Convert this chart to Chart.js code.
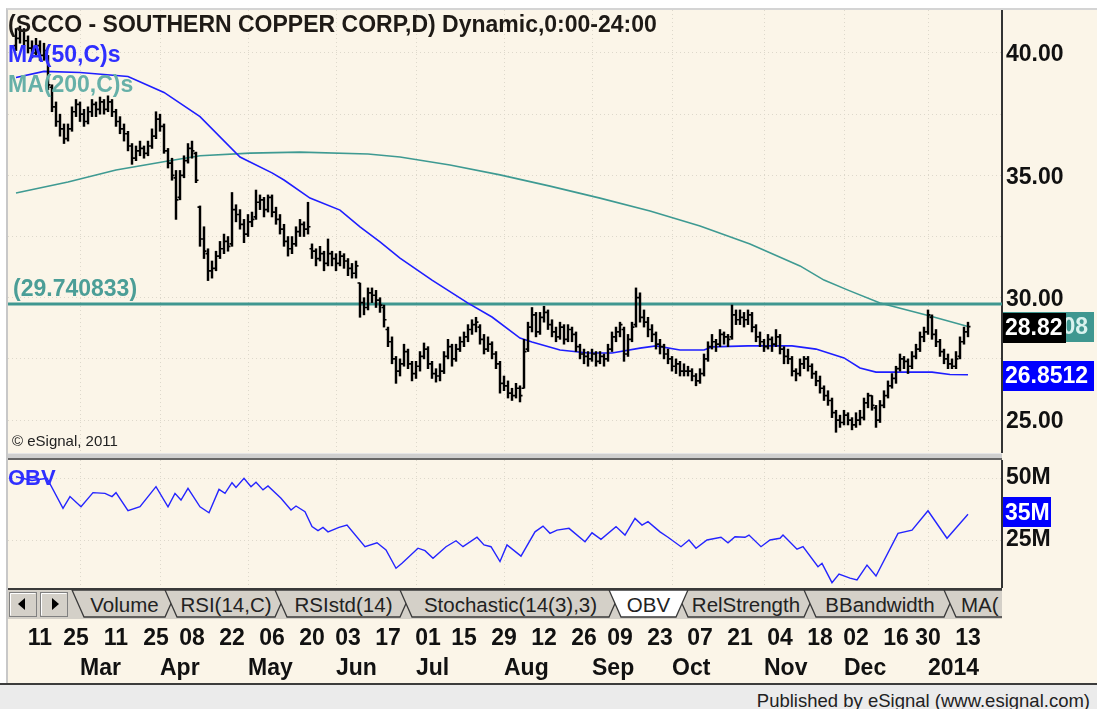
<!DOCTYPE html>
<html>
<head>
<meta charset="utf-8">
<script src="https://cdn.jsdelivr.net/npm/chart.js@4.4.0/dist/chart.umd.min.js"></script>
<style>
  html, body { margin:0; padding:0; background:#fff; }
  body { width:1097px; height:709px; position:relative; overflow:hidden; font-family:'Liberation Sans', Arial, sans-serif; }
  #frame { position:absolute; left:6px; top:8px; width:1091px; height:675px; background:#fbf5e8;
           border-left:2px solid #c8c8c8; border-top:2px solid #d4d4d4; box-sizing:border-box; }
  canvas { position:absolute; }
  .lbl { position:absolute; line-height:1; white-space:nowrap; font-weight:bold; }
  #split { position:absolute; left:8px; top:453px; width:994px; height:7px; background:#cfcfcf;
           border-top:1px solid #e6e6e6; border-bottom:2px solid #666; box-sizing:border-box; }
  #footer { position:absolute; left:0; top:683px; width:1097px; height:26px; background:#ebebeb; border-top:2px solid #3c3c3c; box-sizing:border-box; }
  #footer span { position:absolute; right:7px; top:5px; font-size:18.5px; color:#222; white-space:nowrap; }
</style>
</head>
<body>
<div id="frame"></div>
<canvas id="price" width="1089" height="443" style="left:8px;top:10px"></canvas>
<div id="split"></div>
<canvas id="obv" width="1089" height="223" style="left:8px;top:460px"></canvas>
<svg id="tabbar" width="994" height="31" style="position:absolute;left:8px;top:588px"></svg>
<div class="lbl" style="left:8px;top:13px;font-size:23px;color:#1e1a16">(SCCO - SOUTHERN COPPER CORP,D) Dynamic,0:00-24:00</div>
<div class="lbl" style="left:8px;top:43px;font-size:23px;color:#2f2fff">MA(50,C)s</div>
<div class="lbl" style="left:8px;top:73px;font-size:23px;color:#66b0a8">MA(200,C)s</div>
<div class="lbl" style="left:12px;top:433px;font-size:15px;font-weight:normal;color:#222">© eSignal, 2011</div>
<div class="lbl" style="left:8px;top:467px;font-size:22px;color:#2f2fff">OBV</div>
<div id="footer"><span>Published by eSignal (www.esignal.com)</span></div>
<script>
// daily bars [open, high, low, close], Feb 1 2013 .. Jan 13 2014
var barsFeb = [
  [40.3,41.0,40.1,40.6],[40.6,41.1,40.4,40.9],[40.9,41.0,40.3,40.5],[40.5,40.7,40.0,40.2],[40.2,40.5,39.8,40.0],
  [40.0,40.6,39.9,40.3],[40.3,40.5,39.7,39.9],[39.9,40.4,39.7,40.1],[39.8,39.9,38.5,38.7],[38.6,38.7,37.6,37.8],
  [37.8,38.0,37.0,37.2],[37.2,37.5,36.6,36.9],[36.9,37.1,36.3,36.5],[36.5,37.1,36.4,36.9],[36.9,37.8,36.8,37.6],
  [37.6,38.1,37.4,37.9],[37.9,38.0,37.2,37.5],[37.5,37.7,37.0,37.2],[37.2,37.8,37.1,37.6]
];
var barsMar = [
  [37.6,38.1,37.4,37.9],[37.9,38.0,37.4,37.7],[37.7,38.2,37.5,38.0],[38.0,38.1,37.5,37.7],[37.7,38.25,37.6,38.0],
  [38.0,38.1,37.4,37.6],[37.6,37.7,37.0,37.2],[37.2,37.4,36.7,36.9],[36.9,37.1,36.4,36.7],[36.7,36.8,36.0,36.2],
  [36.2,36.3,35.45,35.7],[35.7,36.2,35.6,36.0],[36.0,36.4,35.8,36.1],[36.1,36.2,35.7,35.9],[35.9,36.4,35.8,36.2],
  [36.2,36.9,36.1,36.6],[36.6,37.6,36.5,37.3],[37.3,37.5,36.8,37.0],[37.0,37.1,35.9,36.0],[36.0,36.1,35.3,35.5]
];
var barsApr = [
  [35.5,35.7,34.8,35.0],[34.9,35.2,33.2,34.0],[34.1,35.2,34.0,35.0],[35.0,35.8,34.9,35.6],[35.6,36.3,35.5,36.1],
  [36.1,36.4,35.7,36.0],[35.9,35.95,34.7,34.8],[33.7,33.75,32.1,32.4],[32.4,32.9,31.6,31.9],[31.8,32.0,30.7,31.1],
  [31.1,31.5,30.8,31.2],[31.2,31.9,31.1,31.7],[31.7,32.3,31.6,32.0],[32.0,32.6,31.8,32.3],[32.3,32.5,31.9,32.1],
  [32.2,34.3,32.1,33.6],[33.6,33.8,33.1,33.4],[33.4,33.6,32.8,33.0],[33.0,33.2,32.25,32.6],[32.6,33.4,32.5,33.1],
  [33.1,33.5,32.9,33.2],[33.3,34.4,33.2,33.9]
];
var barsMay = [
  [33.9,34.2,33.6,34.0],[34.0,34.1,33.3,33.6],[33.6,34.2,33.5,34.1],[34.1,34.2,33.3,33.5],[33.5,33.7,33.0,33.2],
  [33.2,33.4,32.6,32.8],[32.8,33.0,32.1,32.3],[32.3,32.5,31.7,32.0],[32.0,32.5,31.8,32.2],[32.2,32.9,32.1,32.7],
  [32.7,33.2,32.5,33.0],[33.0,33.1,32.5,32.8],[32.8,33.9,32.6,32.9],[32.0,32.2,31.6,31.9],[31.9,32.0,31.3,31.6],
  [31.6,32.1,31.5,31.8],[31.8,31.9,31.1,31.4],[31.4,32.4,31.3,31.8],[31.8,31.9,31.3,31.6],[31.6,31.8,31.1,31.4],
  [31.4,31.9,31.3,31.7],[31.7,31.8,31.2,31.5]
];
var barsJun = [
  [31.5,31.6,30.9,31.2],[31.2,31.4,30.8,31.0],[31.0,31.5,30.8,31.3],[30.6,30.6,29.2,29.8],[29.8,30.0,29.3,29.6],
  [29.6,30.4,29.5,30.2],[30.2,30.4,29.8,30.1],[30.1,30.3,29.6,29.9],[29.9,30.0,29.4,29.7],[29.6,29.7,28.8,29.1],
  [28.7,28.8,28.0,28.2],[28.2,28.4,27.3,27.5],[27.5,27.6,26.5,27.0],[27.0,27.5,26.8,27.3],[27.3,28.1,27.2,27.8],
  [27.8,27.9,27.1,27.3],[27.3,27.4,26.6,26.9],[26.9,27.4,26.7,27.2],[27.2,27.8,27.0,27.6],[27.6,28.15,27.5,27.9]
];
var barsJul = [
  [27.9,28.0,27.1,27.3],[27.3,27.4,26.7,26.9],[26.9,27.1,26.55,26.8],[26.8,27.3,26.6,27.0],[27.0,27.8,26.9,27.6],
  [27.6,28.3,27.5,28.0],[28.0,28.1,27.2,27.5],[27.5,28.1,27.4,27.9],[27.9,28.4,27.8,28.2],[28.2,28.6,28.0,28.4],
  [28.4,28.9,28.2,28.7],[28.7,29.1,28.5,28.9],[28.9,29.2,28.6,29.0],[28.8,28.9,28.1,28.3],[28.3,28.5,27.7,27.9],
  [27.9,28.4,27.8,28.1],[28.1,28.2,27.5,27.7],[27.7,27.8,27.1,27.3],[27.3,27.4,26.1,26.5],[26.5,26.8,26.2,26.4],
  [26.4,26.6,25.9,26.1],[26.1,26.3,25.8,26.0]
];
var barsAug = [
  [26.0,26.5,25.9,26.3],[26.3,26.4,25.74,26.0],[26.3,28.3,26.3,27.8],[27.9,29.0,27.8,28.8],[28.8,29.6,28.6,29.3],
  [29.3,29.4,28.4,28.6],[28.6,29.4,28.5,29.2],[29.2,29.65,29.0,29.4],[29.4,29.5,28.7,28.9],[28.9,29.1,28.4,28.6],
  [28.6,28.8,28.2,28.4],[28.4,29.0,28.3,28.8],[28.8,28.9,28.1,28.3],[28.3,28.9,28.2,28.7],[28.7,28.8,28.2,28.5],
  [28.5,28.6,27.8,28.0],[28.0,28.1,27.5,27.7],[27.7,27.9,27.3,27.6],[27.6,27.8,27.2,27.5],[27.5,27.9,27.4,27.7],
  [27.7,27.8,27.2,27.4],[27.4,27.8,27.3,27.6]
];
var barsSep = [
  [27.6,27.7,27.2,27.5],[27.5,28.1,27.4,27.9],[27.9,28.6,27.8,28.4],[28.4,28.8,28.2,28.6],[28.6,29.0,28.4,28.9],
  [28.7,28.8,27.4,27.7],[27.7,28.5,27.6,28.3],[28.3,29.0,28.2,28.8],[28.9,30.4,28.8,30.0],[30.0,30.2,29.0,29.2],
  [29.2,29.5,28.8,29.0],[29.0,29.2,28.4,28.7],[28.7,28.9,28.2,28.5],[28.5,28.6,27.9,28.1],[28.1,28.3,27.7,28.0],
  [28.0,28.1,27.5,27.7],[27.7,27.9,27.3,27.5],[27.5,27.6,27.0,27.2],[27.2,27.5,26.9,27.3],[27.3,27.4,26.8,27.0]
];
var barsOct = [
  [27.0,27.3,26.8,27.0],[27.0,27.2,26.8,27.0],[27.0,27.1,26.6,26.8],[26.8,26.9,26.4,26.6],[26.6,27.1,26.5,26.9],
  [26.9,27.7,26.8,27.5],[27.5,28.2,27.4,28.0],[28.0,28.5,27.9,28.2],[28.2,28.3,27.8,28.1],[28.1,28.7,28.0,28.5],
  [28.5,28.6,28.1,28.4],[28.4,28.5,28.0,28.3],[28.4,29.7,28.3,29.3],[29.3,29.5,28.9,29.1],[29.1,29.5,28.9,29.2],
  [29.2,29.4,28.8,29.1],[29.1,29.5,28.9,29.3],[29.3,29.4,28.6,28.8],[28.8,28.9,28.2,28.4],[28.4,28.6,28.0,28.2],
  [28.2,28.3,27.8,28.0],[28.0,28.5,27.9,28.3],[28.3,28.4,27.8,28.1]
];
var barsNov = [
  [28.1,28.7,28.0,28.4],[28.4,28.5,27.7,27.9],[27.9,28.0,27.3,27.6],[27.6,27.9,27.3,27.5],[27.5,27.6,26.8,27.0],
  [27.0,27.1,26.6,26.9],[26.9,27.5,26.8,27.3],[27.3,27.6,27.1,27.5],[27.5,27.6,27.0,27.2],[27.2,27.3,26.7,26.9],
  [26.9,27.0,26.4,26.6],[26.6,26.8,26.1,26.3],[26.3,26.4,25.8,26.0],[26.0,26.2,25.6,25.8],[25.8,25.9,25.1,25.3],
  [25.3,25.4,24.5,25.0],[25.0,25.2,24.7,24.9],[24.9,25.4,24.8,25.2],[25.2,25.3,24.8,25.0],[25.0,25.1,24.6,24.8]
];
var barsDec = [
  [24.8,25.3,24.7,25.0],[25.0,25.4,24.8,25.1],[25.1,25.9,25.0,25.7],[25.7,26.1,25.5,26.0],[26.0,26.0,25.4,25.6],
  [25.5,25.6,24.7,25.0],[25.0,25.8,24.9,25.6],[25.6,26.2,25.5,26.0],[26.0,26.6,25.9,26.4],[26.4,26.9,26.3,26.7],
  [26.7,27.2,26.5,27.1],[27.1,27.7,27.0,27.5],[27.5,27.6,27.1,27.4],[27.4,27.5,26.9,27.2],[27.2,27.8,27.1,27.6],
  [27.6,28.1,27.5,27.9],[27.9,28.6,27.8,28.4],[28.4,28.8,28.2,28.6],[28.6,29.5,28.5,29.3],[29.2,29.3,28.3,28.5],
  [28.5,28.7,28.0,28.2]
];
var barsJan = [
  [28.2,28.3,27.6,27.8],[27.8,27.9,27.3,27.5],[27.5,27.7,27.1,27.3],[27.3,27.5,27.1,27.2],[27.2,27.8,27.1,27.5],
  [27.6,28.4,27.5,28.2],[28.2,28.8,28.1,28.6],[28.6,29.0,28.4,28.82]
];
var bars = [].concat(barsFeb, barsMar, barsApr, barsMay, barsJun, barsJul, barsAug, barsSep, barsOct, barsNov, barsDec, barsJan);

// moving averages (bar index, value)
var ma50Idx = [0,7,16,28,37,46,56,64,67,73.5,81,86,91,96,104,113,119,126,129,136,143,149,156,160,166,172,174,183,194,200,207,211,215,229,233.5,238];
var ma50Val = [39.0,39.25,39.2,39.04,38.39,37.4,35.75,35.1,34.81,34.07,33.58,32.89,32.28,31.62,30.72,29.78,29.21,28.35,28.19,27.86,27.74,27.74,27.94,28.03,27.86,27.86,27.99,28.03,28.03,27.9,27.54,27.13,26.96,26.96,26.86,26.8512];
var ma200Idx = [0,13,25,38,46,58.5,71,88,96,108.5,121,133.5,146,158.5,171,183.5,196,202,208,216,228.5,238];
var ma200Val = [34.28,34.73,35.22,35.59,35.8,35.91,35.95,35.87,35.75,35.42,35.02,34.56,34.07,33.54,32.93,32.19,31.3,30.72,30.31,29.78,29.25,28.8208];
var resistance = 29.740833;

// on balance volume, millions
var obvIdx = [0,4,7.75,11.75,13.5,16.25,19.25,22.25,24,25,28,31,35,38,39.75,41.25,43,46,48.25,50.75,52.25,54,55,57,58.75,60,61.75,63,66.25,68.75,70,72.25,74,75.5,76.75,78,80.75,82.75,87.25,90.25,92.5,95,96.5,100.5,102.25,104.25,107.5,110,111.75,115.25,117,118.75,121,122.75,126.25,129.75,131.75,133.5,135.25,138.25,142.25,144,146.25,150,152.25,154.75,156.5,158,161,163,166.25,168.25,170,172.75,176.25,178,179.75,182.25,183.25,186.25,188.5,191,191.75,195.25,196.75,200.5,201.5,204,205.75,208.5,210.25,212.75,215,220.5,224,228,232.75,238];
var obvVal = [50.5,49.0,49.9,37.8,42.5,38.4,44.1,43.8,42.5,44.1,36.8,38.4,46.5,38.4,43.8,41.1,45.8,38.4,36.0,45.4,43.8,48.1,46.2,49.9,46.5,48.3,45.2,46.8,41.8,37.1,38.7,36.4,30.4,28.8,30.1,28.3,30.1,31.0,22.3,23.9,21.0,13.6,15.6,21.7,20.7,17.6,22.3,24.7,22.3,26.1,23.0,22.3,16.3,23.0,18.5,28.3,30.6,27.7,29.0,29.7,24.3,27.9,25.3,30.4,27.0,33.7,31.0,32.4,28.3,26.1,22.3,25.0,21.7,25.0,26.1,23.9,26.3,26.1,27.0,22.3,25.0,25.7,27.0,21.3,22.3,14.2,15.6,7.8,11.3,9.6,8.9,14.9,10.5,27.7,29.0,36.8,25.7,35.4];

// date axis
var dayTickIdx = [6,15,25,35,44,54,64,74,83,93,103,112,122,132,142,151,161,171,181,191,201,210,220,228,238];
var dayTickLbl = ['11','25','11','25','08','22','06','20','03','17','01','15','29','12','26','09','23','07','21','04','18','02','16','30','13'];
var monthTickIdx = [16,36,58,80,100,122,144,164,187,207,228];
var monthTickLbl = ['Mar','Apr','May','Jun','Jul','Aug','Sep','Oct','Nov','Dec','2014'];

var tabNames = ['Volume','RSI(14,C)','RSIstd(14)','Stochastic(14(3),3)','OBV','RelStrength','BBandwidth','MA('];
var tabL = [64,157,267,392,601,668,796,936];
var tabR = [169,279,404,613,680,808,948,1010];
var activeTab = 4;

var xMin = -2, xMax = 246.5;
var gridColor = '#ddd8cb';
var FONT = "'Liberation Sans', Arial, sans-serif";
Chart.defaults.font.family = FONT;

// keep every plot edge where the panel is: no label padding around the chart area
function noPad(s) {
  s.paddingLeft = 0; s.paddingRight = 0; s.paddingTop = 0; s.paddingBottom = 0;
}

var resistanceLine = {
  id: 'resistanceLine',
  beforeDatasetsDraw: function (chart) {
    var ctx = chart.ctx, a = chart.chartArea;
    var py = chart.scales.y.getPixelForValue(resistance);
    ctx.save();
    ctx.strokeStyle = '#3f9790';
    ctx.lineWidth = 3;
    ctx.beginPath();
    ctx.moveTo(a.left, py);
    ctx.lineTo(a.right, py);
    ctx.stroke();
    ctx.fillStyle = '#4b9e97';
    ctx.font = 'bold 23px ' + FONT;
    ctx.textBaseline = 'middle';
    ctx.fillText('(' + resistance + ')', a.left + 5, py - 14);
    ctx.restore();
  }
};

var ohlcTicks = {
  id: 'ohlcTicks',
  afterDatasetsDraw: function (chart) {
    var ctx = chart.ctx, x = chart.scales.x, y = chart.scales.y;
    ctx.save();
    ctx.strokeStyle = '#000';
    ctx.lineWidth = 1.7;
    ctx.beginPath();
    bars.forEach(function (b, i) {
      var px = x.getPixelForValue(i);
      var po = y.getPixelForValue(b[0]), pc = y.getPixelForValue(b[3]);
      ctx.moveTo(px - 2.5, po); ctx.lineTo(px, po);
      ctx.moveTo(px, pc); ctx.lineTo(px + 2.5, pc);
    });
    ctx.stroke();
    ctx.restore();
  }
};

function valueBox(ctx, x0, py, w, bg, fg, text) {
  ctx.fillStyle = bg;
  ctx.fillRect(x0, Math.round(py - 15), w, 30);
  ctx.fillStyle = fg;
  ctx.fillText(text, x0 + 2, py + 1);
}

var priceBoxes = {
  id: 'priceBoxes',
  afterDraw: function (chart) {
    var ctx = chart.ctx, y = chart.scales.y, x0 = chart.chartArea.right + 1;
    ctx.save();
    ctx.font = 'bold 23px ' + FONT;
    ctx.textBaseline = 'middle';
    var m200 = ma200Val[ma200Val.length - 1];
    var m50 = ma50Val[ma50Val.length - 1];
    var last = bars[bars.length - 1][3];
    valueBox(ctx, x0, y.getPixelForValue(m200), 91, '#3f9790', '#d9f2ee', m200.toFixed(4));
    valueBox(ctx, x0, y.getPixelForValue(last) + 1, 63, '#000', '#fff', last.toFixed(2));
    valueBox(ctx, x0, y.getPixelForValue(m50) + 1, 91, '#0000ff', '#fff', m50.toFixed(4));
    ctx.restore();
  }
};

var obvBox = {
  id: 'obvBox',
  afterDraw: function (chart) {
    var ctx = chart.ctx, y = chart.scales.y, x0 = chart.chartArea.right + 1;
    var last = obvVal[obvVal.length - 1];
    ctx.save();
    ctx.font = 'bold 23px ' + FONT;
    ctx.textBaseline = 'middle';
    valueBox(ctx, x0, y.getPixelForValue(last) - 2, 48, '#0000ff', '#fff', Math.floor(last) + 'M');
    ctx.restore();
  }
};

new Chart(document.getElementById('price'), {
  type: 'bar',
  data: {
    datasets: [
      { type: 'bar', data: bars.map(function (b, i) { return { x: i, y: [b[2], b[1]] }; }),
        backgroundColor: '#000', barThickness: 1.8, order: 0 },
      { type: 'line', data: ma50Idx.map(function (v, k) { return { x: v, y: ma50Val[k] }; }),
        borderColor: '#1e1eff', borderWidth: 1.6, pointRadius: 0, tension: 0, order: 1 },
      { type: 'line', data: ma200Idx.map(function (v, k) { return { x: v, y: ma200Val[k] }; }),
        borderColor: '#3e9a92', borderWidth: 1.6, pointRadius: 0, tension: 0, order: 2 }
    ]
  },
  options: {
    responsive: false, animation: false, devicePixelRatio: 1,
    layout: { padding: 0 },
    plugins: { legend: { display: false }, tooltip: { enabled: false } },
    scales: {
      x: {
        type: 'linear', min: xMin, max: xMax, offset: false,
        grid: { color: gridColor, drawTicks: false, offset: false },
        border: { display: false, dash: [1, 3] },
        ticks: { display: false },
        afterBuildTicks: function (s) { s.ticks = monthTickIdx.map(function (v) { return { value: v }; }); },
        afterFit: function (s) { s.height = 0; noPad(s); }
      },
      y: {
        position: 'right', min: 23.654, max: 41.757,
        grid: { color: gridColor, drawTicks: false },
        border: { display: true, color: '#333', width: 2, dash: [1, 3] },
        ticks: {
          stepSize: 2.5, includeBounds: false, padding: 4, labelOffset: 2, color: '#111',
          font: { size: 23, weight: 'bold' },
          callback: function (v) { return Math.abs(v % 5) < 1e-6 ? v.toFixed(2) : ''; }
        },
        afterFit: function (s) { s.width = 95; noPad(s); }
      }
    }
  },
  plugins: [resistanceLine, ohlcTicks, priceBoxes]
});

new Chart(document.getElementById('obv'), {
  type: 'line',
  data: {
    datasets: [
      { data: obvIdx.map(function (v, k) { return { x: v, y: obvVal[k] }; }),
        borderColor: '#2424ff', borderWidth: 1.4, pointRadius: 0, tension: 0 }
    ]
  },
  options: {
    responsive: false, animation: false, devicePixelRatio: 1,
    layout: { padding: 0 },
    plugins: { legend: { display: false }, tooltip: { enabled: false } },
    scales: {
      x: {
        type: 'linear', min: xMin, max: xMax, offset: false, position: 'bottom',
        grid: { display: false, drawTicks: false },
        border: { display: false },
        afterBuildTicks: function (s) { s.ticks = dayTickIdx.map(function (v) { return { value: v }; }); },
        ticks: {
          autoSkip: false, maxRotation: 0, padding: 38, color: '#111',
          font: { size: 23, weight: 'bold' },
          callback: function (v, i) { return dayTickLbl[i]; }
        },
        afterFit: function (s) { s.height = 66; noPad(s); }
      },
      x2: {
        type: 'linear', min: xMin, max: xMax, offset: false, position: 'bottom',
        grid: { color: gridColor, drawTicks: false, offset: false },
        border: { display: false, dash: [1, 3] },
        afterBuildTicks: function (s) { s.ticks = monthTickIdx.map(function (v) { return { value: v }; }); },
        ticks: {
          autoSkip: false, maxRotation: 0, align: 'start', padding: 2, color: '#111',
          font: { size: 23, weight: 'bold' },
          callback: function (v, i) { return monthTickLbl[i]; }
        },
        afterFit: function (s) { s.height = 30; noPad(s); }
      },
      y: {
        position: 'right', min: 6.05, max: 57.26,
        grid: { color: gridColor, drawTicks: false },
        border: { display: true, color: '#333', width: 2, dash: [1, 3] },
        ticks: {
          stepSize: 25, includeBounds: false, padding: 4, color: '#111',
          font: { size: 23, weight: 'bold' },
          callback: function (v) { return v + 'M'; }
        },
        afterFit: function (s) { s.width = 95; noPad(s); }
      }
    }
  },
  plugins: [obvBox]
});

// indicator tab strip
(function () {
  var NS = 'http://www.w3.org/2000/svg';
  var svg = document.getElementById('tabbar');
  function el(name, attrs, text) {
    var e = document.createElementNS(NS, name);
    for (var k in attrs) e.setAttribute(k, attrs[k]);
    if (text) e.textContent = text;
    svg.appendChild(e);
    return e;
  }
  el('rect', { x: 0, y: 0, width: 994, height: 31, fill: '#d4d0c8' });
  el('rect', { x: 0, y: 0, width: 994, height: 2, fill: '#3a3a3a' });
  // scroll buttons
  [[1, 'M10,16 L17,10 L17,22 Z'], [32, 'M51,16 L44,10 L44,22 Z']].forEach(function (b) {
    el('rect', { x: b[0] + 0.5, y: 4.5, width: 27, height: 24, fill: '#d4d0c8', stroke: '#808080' });
    el('path', { d: 'M' + (b[0] + 1.5) + ' 27.5 V5.5 H' + (b[0] + 26.5), stroke: '#fff', fill: 'none' });
    el('path', { d: b[1], fill: '#000' });
  });
  function tab(i) {
    var L = tabL[i], R = tabR[i];
    el('polygon', { points: L + ',2 ' + R + ',2 ' + (R - 12) + ',29 ' + (L + 12) + ',29',
      fill: i === activeTab ? '#fff' : '#d4d0c8', stroke: '#3a3a3a', 'stroke-width': 1.3 });
    var last = i === tabNames.length - 1;
    el('text', { x: last ? L + 17 : (L + R) / 2, y: 16.5, 'text-anchor': last ? 'start' : 'middle',
      'dominant-baseline': 'central', 'font-family': FONT, 'font-size': 20.5, fill: '#222' }, tabNames[i]);
  }
  for (var i = 0; i < tabNames.length; i++) if (i !== activeTab) tab(i);
  tab(activeTab);
})();
</script>
</body>
</html>
